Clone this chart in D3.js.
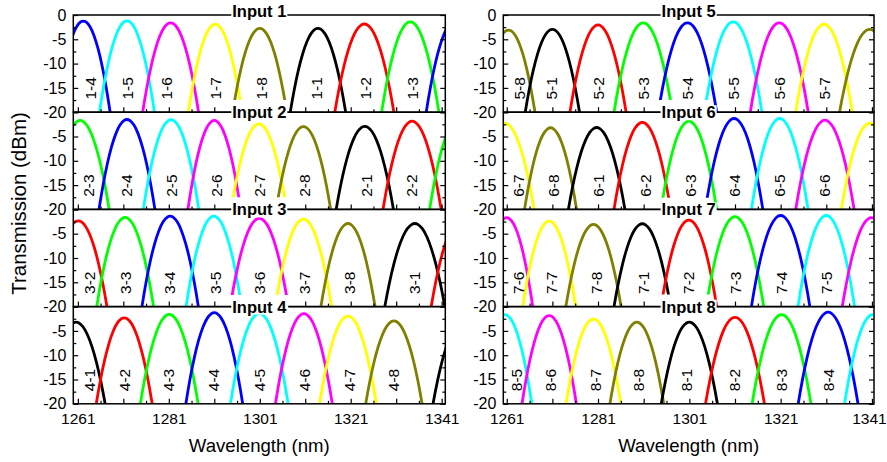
<!DOCTYPE html>
<html><head><meta charset="utf-8">
<script src="https://cdn.jsdelivr.net/npm/d3@7"></script>
<style>body{margin:0;background:#fff}svg{display:block}</style>
</head><body><svg id="chart" width="887" height="462"></svg>
<script>
// ---------- data ----------
const inputs = [1, 2, 3, 4, 5, 6, 7, 8];
// output port of each trace (last one = next order entering at the right edge)
const ports = [
  [4,5,6,7,8,1,2,3,4],
  [3,4,5,6,7,8,1,2,3],
  [2,3,4,5,6,7,8,1,2],
  [1,2,3,4,5,6,7,8,1],
  [8,1,2,3,4,5,6,7,8],
  [7,8,1,2,3,4,5,6,7],
  [6,7,8,1,2,3,4,5,6],
  [5,6,7,8,1,2,3,4,5]
];
// peak wavelength (nm)
const centers = [
  [1262.2,1271.8,1281.4,1291.2,1301.0,1313.8,1324.0,1334.1,1343.9],
  [1261.5,1271.8,1281.5,1291.0,1300.8,1310.6,1324.1,1334.5,1344.6],
  [1261.1,1271.4,1281.3,1290.9,1300.9,1310.6,1320.4,1335.1,1345.1],
  [1260.6,1271.2,1281.1,1291.0,1300.9,1310.7,1320.4,1330.5,1345.6],
  [1261.4,1271.0,1281.0,1290.9,1300.6,1310.6,1320.7,1330.5,1340.5],
  [1260.6,1270.6,1280.7,1290.7,1300.9,1310.8,1320.8,1330.7,1340.5],
  [1261.0,1270.3,1280.0,1290.7,1300.9,1311.0,1321.0,1331.0,1340.9],
  [1260.6,1270.3,1280.0,1289.5,1301.0,1311.0,1321.2,1331.4,1341.2]
];
// peak transmission (dBm)
const peaks = [
  [-1.25,-1.2,-1.6,-1.9,-2.75,-2.75,-1.85,-1.4,-1.25],
  [-1.7,-1.5,-1.55,-1.7,-2.4,-2.95,-2.9,-1.85,-1.7],
  [-2.35,-1.65,-1.4,-1.4,-1.85,-2.0,-2.9,-2.9,-2.35],
  [-3.2,-2.3,-1.6,-1.25,-1.4,-1.45,-1.95,-2.95,-3.2],
  [-3.1,-2.95,-2.05,-1.6,-1.6,-1.4,-1.6,-1.9,-2.95],
  [-2.3,-3.2,-3.15,-2.1,-1.85,-1.3,-1.3,-1.65,-2.3],
  [-1.7,-2.4,-3.1,-2.95,-2.2,-1.5,-1.25,-1.25,-1.7],
  [-1.65,-1.85,-2.55,-3.2,-3.2,-2.2,-1.65,-1.15,-1.65]
];
// half width (nm) of each trace where it reaches -20 dBm
const halfWidths = [
  [5.9,6.05,6.15,5.9,5.95,6.1,6.5,6.3,6.3],
  [6.4,6.15,6.1,5.8,6.1,6.0,6.3,6.4,6.25],
  [6.3,6.25,6.2,6.1,6.4,6.2,5.95,6.6,6.4],
  [6.4,6.15,6.35,6.25,6.35,6.25,6.25,6.2,6.5],
  [5.8,5.95,6.15,6.4,6.4,6.3,6.35,6.2,6.6],
  [6.4,5.7,6.2,6.2,6.1,6.3,6.2,6.4,6.2],
  [5.7,5.8,6.05,6.2,6.1,6.3,6.4,6.2,6.4],
  [5.9,5.95,6.0,5.9,6.15,6.45,6.45,6.55,6.2]
];
// lowest level (dBm) where the left / right flank of each trace ends
const cutLeft = [
  [-20,-20,-20,-20,-17.5,-20,-20,-20,-20],
  [-20,-20,-20,-20,-17.5,-17.5,-20,-20,-20],
  [-20,-20,-20,-20,-17.6,-17.6,-20,-20,-20],
  [-20,-20,-20,-20,-20,-20,-20,-20,-20],
  [-20,-20,-20,-20,-17.5,-17.5,-20,-20,-20],
  [-20,-20,-20,-20,-17.6,-17.6,-20,-20,-20],
  [-20,-20,-20,-20,-17.5,-17.5,-20,-20,-20],
  [-20,-20,-20,-20,-20,-20,-20,-20,-20]
];
const cutRight = [
  [-20,-20,-20,-17.5,-17.5,-20,-20,-20,-20],
  [-20,-20,-20,-17.5,-17.5,-20,-20,-20,-20],
  [-20,-20,-20,-17.6,-17.6,-20,-20,-20,-20],
  [-20,-20,-20,-20,-20,-20,-20,-20,-20],
  [-20,-20,-20,-17.5,-20,-20,-20,-20,-20],
  [-20,-20,-20,-17.6,-20,-20,-20,-20,-20],
  [-20,-20,-20,-17.5,-20,-20,-20,-20,-20],
  [-20,-20,-20,-20,-20,-20,-20,-20,-20]
];
// wavelength at which each channel label sits
const labelAt = [
  [1263.7,1272.0,1280.5,1291.2,1301.3,1313.5,1324.3,1334.6],
  [1263.3,1271.8,1281.6,1291.5,1301.0,1310.9,1324.5,1334.4],
  [1263.5,1271.4,1281.1,1291.2,1301.0,1310.9,1320.8,1335.1],
  [1263.5,1271.2,1280.9,1290.8,1301.0,1310.9,1320.8,1330.5],
  [1263.9,1270.8,1281.0,1291.0,1300.7,1310.6,1320.7,1330.5],
  [1263.5,1271.2,1281.0,1291.3,1301.3,1311.0,1320.8,1330.7],
  [1263.5,1270.8,1280.7,1290.9,1300.9,1311.2,1321.2,1331.0],
  [1263.2,1270.5,1280.5,1289.8,1300.4,1311.0,1321.2,1331.4]
];
const labelLevel = -15.1;
// normalised channel profile (offset in half widths, fraction of depth to -20 dBm)
const shapeU = [-1.3,-1.15,-1,-0.85,-0.7,-0.55,-0.4,-0.25,-0.1,0,0.1,0.25,0.4,0.55,0.7,0.85,1,1.15,1.3];
const shapeF = [1.69,1.3225,1,0.7225,0.49,0.3025,0.16,0.0625,0.01,0,0.01,0.0625,0.16,0.3025,0.49,0.7225,1,1.3225,1.69];
const portColors = ["#000000","#ff0000","#00ff00","#0000ff","#00ffff","#ff00ff","#ffff00","#808000"];
const xMajor = [1261,1271,1281,1291,1301,1311,1321,1331,1341];
const xMinor = [1266,1276,1286,1296,1306,1316,1326,1336];
const xLabels = [1261,1281,1301,1321,1341];
const yMajor = [0,-5,-10,-15,-20];
const yMinor = [-2.5,-7.5,-12.5,-17.5];

// ---------- layout ----------
const FONT = "'Liberation Sans', Arial, Helvetica, sans-serif";
const columns = [
  {x0: 73.3, x1: 445.3, domain: [1260.0, 1341.8]},
  {x0: 503.3, x1: 874.0, domain: [1260.25, 1341.45]}
];
const top0 = 15, rowH = 97.2;

const svg = d3.select("#chart");
const defs = svg.append("defs");
const titleLayer = [];

inputs.forEach((inp, p) => {
  const colIdx = p < 4 ? 0 : 1;
  const col = columns[colIdx];
  const row = p % 4;
  const top = top0 + row * rowH, bottom = top + rowH;
  const x = d3.scaleLinear().domain(col.domain).range([col.x0, col.x1]);
  const y = d3.scaleLinear().domain([0, -20]).range([top, bottom]);
  const g = svg.append("g");

  const line = d3.line().x(d => x(d[0])).y(d => y(d[1])).curve(d3.curveNatural);

  ports[p].forEach((port, i) => {
    const c = centers[p][i], pk = peaks[p][i], hw = halfWidths[p][i];
    const pts = shapeU.map((u, k) => [c + u * hw, pk + (-20 - pk) * shapeF[k]]);
    const id = `clip-${p}-${i}`;
    const cp = defs.append("clipPath").attr("id", id);
    const xc = Math.max(col.x0, Math.min(col.x1, x(c)));
    cp.append("rect").attr("x", col.x0).attr("y", top)
      .attr("width", Math.max(0, xc - col.x0)).attr("height", y(cutLeft[p][i]) - top);
    cp.append("rect").attr("x", xc).attr("y", top)
      .attr("width", Math.max(0, col.x1 - xc)).attr("height", y(cutRight[p][i]) - top);
    g.append("path").datum(pts)
      .attr("d", line)
      .attr("clip-path", `url(#${id})`)
      .attr("fill", "none")
      .attr("stroke", portColors[port - 1])
      .attr("stroke-width", 2.8)
      .attr("stroke-linecap", "butt");
  });

  // channel labels
  labelAt[p].forEach((lw, i) => {
    g.append("text")
      .attr("transform", `translate(${x(lw)},${y(labelLevel)}) rotate(-90)`)
      .attr("text-anchor", "middle")
      .attr("dominant-baseline", "central")
      .attr("font-family", FONT)
      .attr("font-size", 15.5)
      .attr("fill", "#000")
      .text(`${inp}-${ports[p][i]}`);
  });

  // frame
  g.append("rect").attr("x", col.x0).attr("y", top)
    .attr("width", col.x1 - col.x0).attr("height", rowH)
    .attr("fill", "none").attr("stroke", "#000").attr("stroke-width", 1.5);

  const styleAxis = (sel, fs) => {
    sel.select(".domain").remove();
    sel.selectAll(".tick line").attr("stroke", "#000").attr("stroke-width", 1.2);
    sel.attr("font-family", FONT).attr("font-size", fs || 16);
    sel.selectAll(".tick text").attr("fill", "#000");
  };

  // left axis
  svg.append("g").attr("transform", `translate(${col.x0},0)`)
    .call(d3.axisLeft(y).tickValues(yMajor).tickSize(-5).tickPadding(7)
      .tickFormat(d => (d === 0 && row > 0) ? "" : String(d)))
    .call(styleAxis);
  svg.append("g").attr("transform", `translate(${col.x0},0)`)
    .call(d3.axisLeft(y).tickValues(yMinor).tickSize(-3).tickFormat(""))
    .call(styleAxis);
  // right axis
  svg.append("g").attr("transform", `translate(${col.x1},0)`)
    .call(d3.axisRight(y).tickValues(yMajor).tickSize(-5).tickFormat(""))
    .call(styleAxis);
  svg.append("g").attr("transform", `translate(${col.x1},0)`)
    .call(d3.axisRight(y).tickValues(yMinor).tickSize(-3).tickFormat(""))
    .call(styleAxis);
  // bottom axis
  const bx = svg.append("g").attr("transform", `translate(0,${bottom})`)
    .call(d3.axisBottom(x).tickValues(xMajor).tickSize(-5).tickPadding(9)
      .tickFormat(d => (row === 3 && xLabels.includes(d)) ? String(d) : ""))
    .call(styleAxis, 15.5);
  if (colIdx === 1) {
    bx.selectAll(".tick text").filter(d => d === 1341).attr("dx", -3);
  }
  svg.append("g").attr("transform", `translate(0,${bottom})`)
    .call(d3.axisBottom(x).tickValues(xMinor).tickSize(-3).tickFormat(""))
    .call(styleAxis);

  if (row === 3) {
    svg.append("text")
      .attr("x", (col.x0 + col.x1) / 2).attr("y", 452)
      .attr("text-anchor", "middle")
      .attr("font-family", FONT).attr("font-size", 18.6)
      .attr("fill", "#000")
      .text("Wavelength (nm)");
  }
  titleLayer.push({text: `Input ${inp}`, x: (col.x0 + col.x1) / 2, y: row === 0 ? top - 3.7 : top});
});

// panel titles on top of the frames
titleLayer.forEach(t => {
  const tg = svg.append("g");
  const bg = tg.append("rect").attr("fill", "#fff");
  const txt = tg.append("text")
    .attr("x", t.x).attr("y", t.y)
    .attr("text-anchor", "middle").attr("dominant-baseline", "central")
    .attr("font-family", FONT).attr("font-size", 16.5).attr("font-weight", "bold")
    .attr("fill", "#000").text(t.text);
  const bb = txt.node().getBBox();
  bg.attr("x", bb.x - 1).attr("y", bb.y + 2).attr("width", bb.width + 2).attr("height", bb.height - 3);
});

// y axis title
svg.append("text")
  .attr("transform", "translate(26,203.5) rotate(-90)")
  .attr("text-anchor", "middle")
  .attr("font-family", FONT).attr("font-size", 20.5)
  .attr("fill", "#000")
  .text("Transmission (dBm)");
</script>
</body></html>
